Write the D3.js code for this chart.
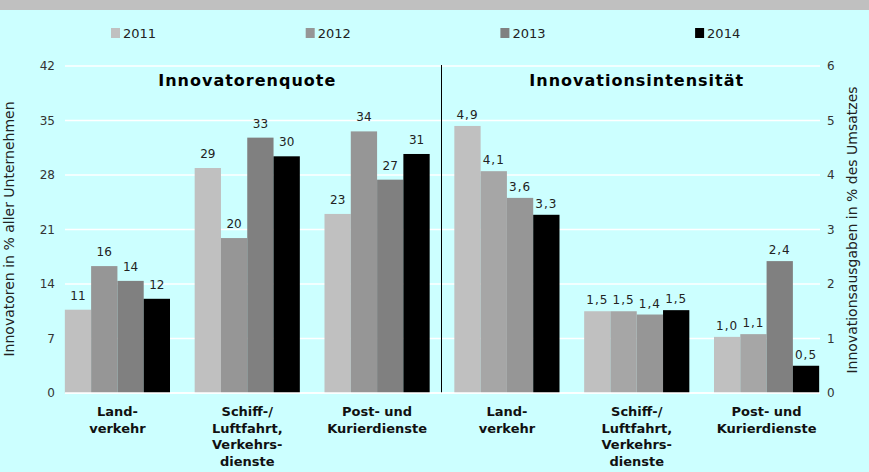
<!DOCTYPE html>
<html>
<head>
<meta charset="utf-8">
<script src="https://cdn.jsdelivr.net/npm/d3@7"></script>
<style>
  body { margin: 0; background: #ccffff; }
  text { font-family: "DejaVu Sans", Verdana, sans-serif; }
</style>
</head>
<body>
<div id="chart"></div>
<script>
/* Innovatorenquote / Innovationsintensität - grouped bars */

const years = ["2011", "2012", "2013", "2014"];
const categories = [["Land-", "verkehr"], ["Schiff-/", "Luftfahrt,", "Verkehrs-", "dienste"], ["Post- und", "Kurierdienste"]];

// left panel: Innovatoren in % aller Unternehmen (rows = categories, cols = years)
const quoteValues = [
  [10.7, 16.3, 14.4, 12.1],
  [28.9, 19.9, 32.8, 30.4],
  [23.0, 33.6, 27.4, 30.7]
];
// right panel: Innovationsausgaben in % des Umsatzes
const intensValues = [
  [4.9, 4.07, 3.58, 3.27],
  [1.5, 1.5, 1.44, 1.52],
  [1.03, 1.08, 2.42, 0.5]
];
const leftTicks = [0, 7, 14, 21, 28, 35, 42];
const rightTicks = [0, 1, 2, 3, 4, 5, 6];

const height = 472,
    width = 869,
    margin = ({ top: 66, right: 49, bottom: 79, left: 65 });

// colours (the right panel uses slightly different greys)
const legendColors = ["#c0c0c0", "#969696", "#808080", "#000000"];
const leftColors = ["#c0c0c0", "#969696", "#808080", "#000000"];
const rightColors = [
  ["#c0c0c0", "#a6a6a6", "#969696", "#000000"],
  ["#c0c0c0", "#a6a6a6", "#969696", "#000000"],
  ["#c0c0c0", "#a6a6a6", "#808080", "#000000"]
];

const svg = d3.select("#chart")
    .append("svg")
    .attr("width", width)
    .attr("height", height);

svg.append("rect").attr("width", width).attr("height", height).attr("fill", "#ccffff");
svg.append("rect").attr("width", width).attr("height", 10).attr("fill", "#c0c0c0");

// six slots: 3 left, 3 right
let x = d3.scaleBand()
    .domain(d3.range(6))
    .range([52.5, 831.5])
    .paddingInner(0.19)
    .paddingOuter(0.095);

let xs = d3.scaleBand()
    .domain(years)
    .range([0, x.bandwidth()]);

let yL = d3.scaleLinear().domain([0, 42]).range([height - margin.bottom, margin.top]);
let yR = d3.scaleLinear().domain([0, 6]).range([height - margin.bottom, margin.top]);

// gridlines
svg.append("g")
    .selectAll("line")
    .data(leftTicks)
    .join("line")
    .attr("x1", margin.left)
    .attr("x2", width - margin.right)
    .attr("y1", d => yL(d))
    .attr("y2", d => yL(d))
    .attr("stroke", "#ffffff")
    .attr("stroke-width", 1.5);

// left axis
svg.append("g")
    .attr("transform", `translate(${margin.left},0)`)
    .call(d3.axisLeft(yL).tickValues(leftTicks).tickSize(0).tickPadding(10))
    .call(g => g.select(".domain").remove())
    .call(g => g.selectAll("text").attr("font-size", 12).attr("fill", "#333")
        .attr("font-family", "DejaVu Sans, sans-serif"));

// right axis
svg.append("g")
    .attr("transform", `translate(${width - margin.right},0)`)
    .call(d3.axisRight(yR).tickValues(rightTicks).tickFormat(d3.format("d")).tickSize(0).tickPadding(7))
    .call(g => g.select(".domain").remove())
    .call(g => g.selectAll("text").attr("font-size", 12).attr("fill", "#333")
        .attr("font-family", "DejaVu Sans, sans-serif"));

// divider
svg.append("line")
    .attr("x1", 441.5).attr("x2", 441.5)
    .attr("y1", yL(42) - 1).attr("y2", yL(0))
    .attr("stroke", "#000").attr("stroke-width", 1);

// bars
function drawPanel(values, y, offset, colorOf, fmt, gap, spacing) {
    const g = svg.append("g");
    values.forEach((row, i) => {
        const grp = g.append("g").attr("transform", `translate(${x(i + offset)},0)`);
        grp.selectAll("rect")
            .data(row)
            .join("rect")
            .attr("x", (d, j) => xs(years[j]))
            .attr("width", xs.bandwidth())
            .attr("y", d => y(d))
            .attr("height", d => y(0) - y(d))
            .attr("fill", (d, j) => colorOf(i, j));
        grp.selectAll("text")
            .data(row)
            .join("text")
            .attr("x", (d, j) => xs(years[j]) + xs.bandwidth() / 2)
            .attr("y", d => y(d) - gap)
            .attr("text-anchor", "middle")
            .attr("font-size", 12)
            .attr("letter-spacing", spacing)
            .attr("fill", "#222")
            .text(fmt);
    });
}

drawPanel(quoteValues, yL, 0, (i, j) => leftColors[j], d => d3.format(".0f")(d), 10, 0);
drawPanel(intensValues, yR, 3, (i, j) => rightColors[i][j], d => d.toFixed(1).replace(".", ","), 7, 1);

// baseline
svg.append("line")
    .attr("x1", margin.left).attr("x2", width - margin.right)
    .attr("y1", yL(0)).attr("y2", yL(0))
    .attr("stroke", "#ffffff").attr("stroke-width", 1.5);

// category labels
for (let k = 0; k < 6; k++) {
    const lines = categories[k % 3];
    const t = svg.append("text")
        .attr("text-anchor", "middle")
        .attr("font-size", 13)
        .attr("font-weight", "bold")
        .attr("fill", "#111");
    lines.forEach((l, n) => {
        t.append("tspan")
            .attr("x", x(k) + x.bandwidth() / 2)
            .attr("y", 416 + n * 16.7)
            .text(l);
    });
}

// panel titles
svg.append("text")
    .attr("x", (x(0) + x(2) + x.bandwidth()) / 2)
    .attr("y", 86)
    .attr("text-anchor", "middle")
    .attr("font-size", 16)
    .attr("font-weight", "bold")
    .attr("letter-spacing", 1)
    .text("Innovatorenquote");

svg.append("text")
    .attr("x", (x(3) + x(5) + x.bandwidth()) / 2)
    .attr("y", 86)
    .attr("text-anchor", "middle")
    .attr("font-size", 16)
    .attr("font-weight", "bold")
    .attr("letter-spacing", 1)
    .text("Innovationsintensität");

// axis titles
svg.append("text")
    .attr("transform", `translate(14,229) rotate(-90)`)
    .attr("text-anchor", "middle")
    .attr("font-size", 14)
    .attr("fill", "#222")
    .text("Innovatoren in % aller Unternehmen");

svg.append("text")
    .attr("transform", `translate(857,230) rotate(-90)`)
    .attr("text-anchor", "middle")
    .attr("font-size", 14)
    .attr("fill", "#222")
    .text("Innovationsausgaben in % des Umsatzes");

// legend
const legend = svg.append("g")
    .selectAll("g")
    .data(years)
    .join("g")
    .attr("transform", (d, i) => `translate(${111 + i * 194.7},28)`);

legend.append("rect")
    .attr("width", 9)
    .attr("height", 10)
    .attr("fill", (d, i) => legendColors[i]);

legend.append("text")
    .attr("x", 12)
    .attr("y", 10)
    .attr("font-size", 13)
    .attr("fill", "#222")
    .text(d => d);
</script>
</body>
</html>
